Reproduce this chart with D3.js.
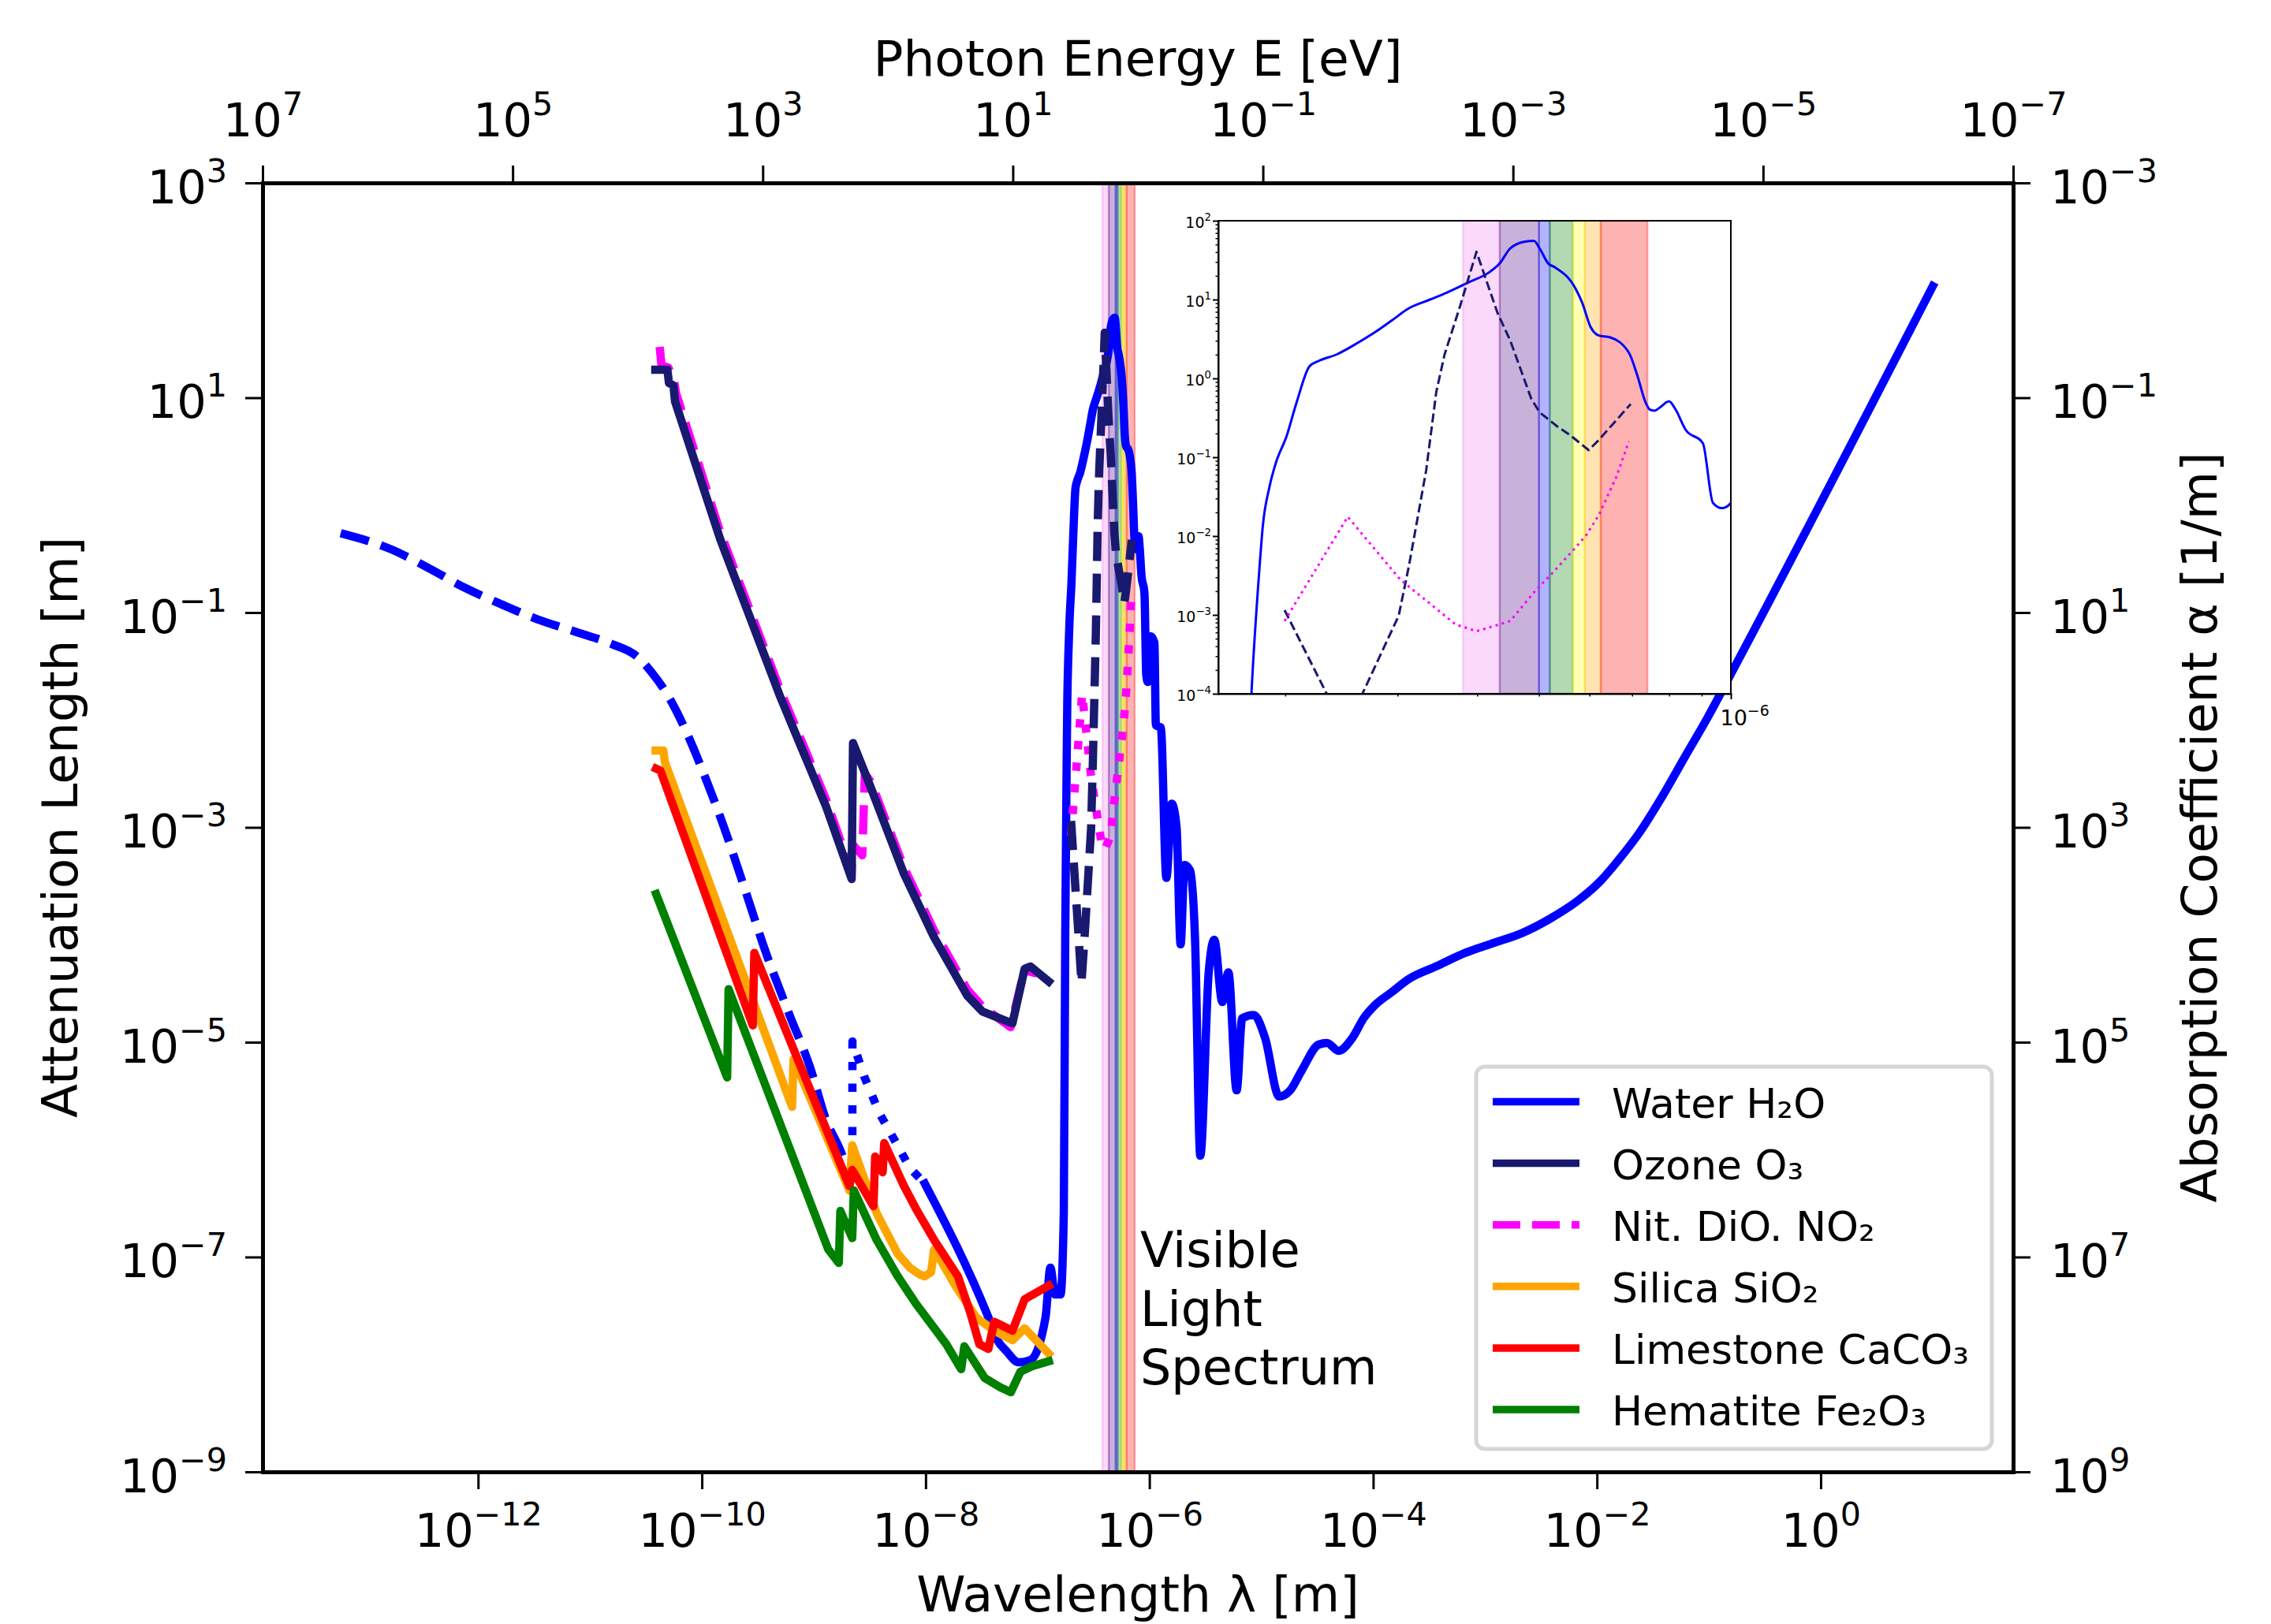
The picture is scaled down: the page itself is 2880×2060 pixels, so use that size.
<!DOCTYPE html>
<html>
<head>
<meta charset="utf-8">
<script src="https://cdn.jsdelivr.net/npm/d3@7"></script>
<style>
  body { margin: 0; background: #fff; }
  text { font-family: "DejaVu Sans"; }
</style>
</head>
<body>
<svg id="chart" width="2880" height="2060" xmlns="http://www.w3.org/2000/svg"></svg>
<script>
// ---------------- DATA (log10 wavelength [m], log10 attenuation length [m]) ----------------
const waterGammaLog = [[-13.228,-0.262],[-12.773,-0.413],[-12.449,-0.582],[-12.126,-0.765],[-11.801,-0.919],[-11.478,-1.059],[-11.127,-1.180],[-10.802,-1.294],[-10.586,-1.404],[-10.451,-1.554],[-10.289,-1.798],[-10.128,-2.135],[-9.965,-2.547],[-9.803,-2.996],[-9.620,-3.561],[-9.432,-4.153],[-9.220,-4.736],[-9.030,-5.242],[-8.896,-5.705],[-8.734,-6.086],[-8.691,-6.233]];
const waterSoftXLog = [[-8.691,-6.233],[-8.655,-6.233],[-8.654,-4.993],[-8.546,-5.327],[-8.411,-5.665],[-8.275,-5.917],[-8.141,-6.170],[-8.007,-6.317]];
const waterLog = [[-8.007,-6.317],[-7.439,-7.561],[-7.358,-7.774],[-7.277,-7.877],[-7.168,-7.980],[-7.062,-7.958],[-6.928,-7.561],[-6.885,-7.099],[-6.843,-7.349],[-6.794,-7.349],[-6.765,-6.593],[-6.752,-4.0],[-6.740,-2.47],[-6.734,-1.86],[-6.724,-1.386],[-6.714,-1.08],[-6.697,-0.736],[-6.681,-0.30],[-6.661,0.153],[-6.647,0.22],[-6.618,0.305],[-6.584,0.457],[-6.558,0.587],[-6.531,0.74],[-6.505,0.89],[-6.472,1.0],[-6.446,1.086],[-6.412,1.216],[-6.379,1.346],[-6.363,1.454],[-6.346,1.65],[-6.323,1.736],[-6.309,1.745],[-6.300,1.65],[-6.286,1.454],[-6.276,1.41],[-6.243,1.13],[-6.233,0.956],[-6.220,0.652],[-6.207,0.544],[-6.190,0.522],[-6.160,0.327],[-6.147,0.045],[-6.134,-0.30],[-6.127,-0.397],[-6.120,-0.41],[-6.111,-0.367],[-6.097,-0.29],[-6.087,-0.39],[-6.071,-0.65],[-6.044,-0.82],[-6.028,-1.58],[-6.014,-1.646],[-6.000,-1.58],[-5.990,-1.22],[-5.955,-1.28],[-5.942,-2.05],[-5.898,-2.07],[-5.848,-3.47],[-5.800,-2.78],[-5.757,-3.00],[-5.721,-4.09],[-5.686,-3.35],[-5.637,-3.40],[-5.592,-4.04],[-5.545,-6.057],[-5.470,-4.351],[-5.420,-4.046],[-5.348,-4.626],[-5.294,-4.351],[-5.220,-5.448],[-5.171,-4.777],[-5.067,-4.747],[-4.966,-4.960],[-4.840,-5.506],[-4.741,-5.448],[-4.639,-5.264],[-4.487,-5.022],[-4.412,-5.007],[-4.310,-5.081],[-4.186,-4.960],[-4.085,-4.777],[-3.984,-4.655],[-3.833,-4.533],[-3.682,-4.412],[-3.429,-4.290],[-3.177,-4.168],[-2.926,-4.077],[-2.674,-3.986],[-2.422,-3.852],[-2.170,-3.682],[-1.968,-3.499],[-1.817,-3.316],[-1.616,-3.043],[-1.414,-2.708],[-1.213,-2.342],[-1.011,-1.978],[-0.762,-1.492],[1.002,2.039]];
const ozoneLog = [[-10.416,1.261],[-10.308,1.261],[-10.294,1.136],[-10.254,1.114],[-10.240,0.967],[-9.836,-0.317],[-9.296,-1.793],[-8.890,-2.806],[-8.661,-3.481],[-8.649,-2.215],[-8.487,-2.637],[-8.195,-3.429],[-7.925,-4.022],[-7.628,-4.567],[-7.492,-4.714],[-7.224,-4.824],[-7.115,-4.317],[-7.062,-4.295],[-6.899,-4.435]];
const ozoneVisLog = [[-6.700,-2.94],[-6.634,-4.0],[-6.607,-4.45],[-6.578,-4.0],[-6.521,-3.01],[-6.505,-2.38],[-6.478,-1.17],[-6.462,-0.17],[-6.449,0.305],[-6.425,0.91],[-6.399,1.606],[-6.386,1.30],[-6.366,0.83],[-6.346,0.48],[-6.313,-0.26],[-6.300,-0.43],[-6.273,-0.605],[-6.253,-0.714],[-6.223,-0.91],[-6.207,-0.78],[-6.157,-0.324]];
const no2Log = [[-10.377,1.473],[-10.360,1.30],[-10.300,1.28],[-10.250,1.17],[-10.230,1.04],[-9.836,-0.25],[-9.296,-1.73],[-8.890,-2.74],[-8.661,-3.42],[-8.652,-3.16],[-8.566,-3.26],[-8.543,-2.50],[-8.487,-2.58],[-8.195,-3.37],[-7.925,-3.96],[-7.628,-4.51],[-7.492,-4.67],[-7.240,-4.86],[-7.118,-4.33],[-7.005,-4.36]];
const no2VisLog = [[-6.700,-3.077],[-6.601,-1.755],[-6.545,-2.297],[-6.518,-2.557],[-6.478,-2.817],[-6.432,-3.12],[-6.399,-3.207],[-6.363,-3.12],[-6.346,-3.077],[-6.306,-2.687],[-6.280,-2.47],[-6.246,-2.167],[-6.227,-1.99],[-6.207,-1.733],[-6.180,-1.256],[-6.160,-0.80]];
const silicaLog = [[-10.413,-2.284],[-10.344,-2.284],[-10.330,-2.394],[-9.194,-5.602],[-9.180,-5.159],[-8.681,-6.380],[-8.656,-5.960],[-8.437,-6.593],[-8.249,-6.971],[-8.141,-7.099],[-8.060,-7.158],[-8.007,-7.180],[-7.951,-7.140],[-7.924,-6.930],[-7.898,-6.971],[-7.735,-7.266],[-7.549,-7.561],[-7.386,-7.686],[-7.224,-7.774],[-7.115,-7.664],[-6.899,-7.899]];
const limestoneLog = [[-10.409,-2.453],[-10.370,-2.472],[-9.545,-4.843],[-9.531,-4.169],[-8.681,-6.339],[-8.656,-6.189],[-8.466,-6.527],[-8.451,-6.064],[-8.384,-6.211],[-8.370,-5.939],[-8.195,-6.336],[-8.087,-6.549],[-7.924,-6.842],[-7.711,-7.180],[-7.601,-7.518],[-7.520,-7.811],[-7.439,-7.855],[-7.386,-7.603],[-7.224,-7.686],[-7.115,-7.393],[-6.899,-7.266]];
const hematiteLog = [[-10.409,-3.620],[-9.774,-5.328],[-9.761,-4.506],[-8.870,-6.929],[-8.776,-7.055],[-8.762,-6.571],[-8.656,-6.824],[-8.642,-6.380],[-8.437,-6.842],[-8.249,-7.180],[-8.087,-7.434],[-7.817,-7.809],[-7.682,-8.044],[-7.654,-7.831],[-7.471,-8.127],[-7.330,-8.215],[-7.238,-8.259],[-7.153,-8.068],[-7.048,-8.017],[-6.899,-7.970]];

// visible bands (nm)
const bandStartsNm = [380, 434, 500, 520, 565, 590, 625];
const bandEndsNm   = [434, 500, 520, 565, 590, 625, 740];

// tick exponents
const bottomTickExps = [-12, -10, -8, -6, -4, -2, 0];
const topTickExps = [7, 5, 3, 1, -1, -3, -5, -7];
const leftTickExps = [3, 1, -1, -3, -5, -7, -9];
const rightTickExps = [-3, -1, 1, 3, 5, 7, 9];
const insetYTickExps = [2, 1, 0, -1, -2, -3, -4];
const insetXTickExps = [-6];

const legendLabels = ["Water H\u2082O", "Ozone O\u2083", "Nit. DiO. NO\u2082", "Silica SiO\u2082", "Limestone CaCO\u2083", "Hematite Fe\u2082O\u2083"];
const visibleLabelLines = ["Visible", "Light", "Spectrum"];
const axisTitles = { bottom: "Wavelength \u03bb [m]", top: "Photon Energy E [eV]", left: "Attenuation Length [m]", right: "Absorption Coefficient \u03b1 [1/m]" };

// ---------------- STYLES / LAYOUT ----------------
const bandColors = ['violet', 'indigo', 'blue', 'green', 'yellow', 'orange', 'red'];
const C = { water: '#0000ff', ozone: '#191970', no2: '#ff00ff', silica: '#ffa500', lime: '#ff0000', hem: '#008000' };
const M = { left: 333, right: 2553, top: 232, bottom: 1867 };
const I = { left: 1545, right: 2195, top: 280, bottom: 880 };
const fsTick = 59, fsLabel = 63, fsLegend = 52, fsInY = 19, fsInX = 27;
const LW = 10.5;
const DASH = '37,16', DOT = '10.5,17';

const svg = d3.select('#chart');
svg.append('rect').attr('width', 2880).attr('height', 2060).attr('fill', '#fff');

const x = d3.scaleLog().domain([Math.pow(10, -13.926), Math.pow(10, 1.72)]).range([M.left, M.right]);
const y = d3.scaleLog().domain([1e-9, 1e3]).range([M.bottom, M.top]);
const xTop = d3.scaleLog().domain([1e7, 1e-7]).range([M.left, M.right]);
const yRight = d3.scaleLog().domain([1e9, 1e-3]).range([M.bottom, M.top]);
const xi = d3.scaleLog().domain([Math.pow(10, -6.804), 1e-6]).range([I.left, I.right]);
const yi = d3.scaleLog().domain([1e-4, 1e2]).range([I.bottom, I.top]);

const lin = arr => arr.map(d => [Math.pow(10, d[0]), Math.pow(10, d[1])]);

const defs = svg.append('defs');
defs.append('clipPath').attr('id', 'clipMain').append('rect')
  .attr('x', M.left).attr('y', M.top).attr('width', M.right - M.left).attr('height', M.bottom - M.top);
defs.append('clipPath').attr('id', 'clipInset').append('rect')
  .attr('x', I.left).attr('y', I.top).attr('width', I.right - I.left).attr('height', I.bottom - I.top);

function drawBands(g, xs, y0, y1) {
  g.selectAll('rect.band').data(d3.range(bandStartsNm.length)).join('rect')
    .attr('class', 'band')
    .attr('x', i => xs(bandStartsNm[i] * 1e-9))
    .attr('width', i => xs(bandEndsNm[i] * 1e-9) - xs(bandStartsNm[i] * 1e-9))
    .attr('y', y0).attr('height', y1 - y0)
    .attr('fill', i => bandColors[i]).attr('fill-opacity', 0.3)
    .attr('stroke', i => bandColors[i]).attr('stroke-opacity', 0.3).attr('stroke-width', 2.5);
}

// ---------------- MAIN PLOT ----------------
const mainG = svg.append('g').attr('clip-path', 'url(#clipMain)');
drawBands(mainG, x, M.top, M.bottom);

const lineMain = d3.line().x(d => x(d[0])).y(d => y(d[1]));
const lineMainSmooth = d3.line().x(d => x(d[0])).y(d => y(d[1])).curve(d3.curveMonotoneX);
const mainSeries = [
  { data: waterGammaLog, color: C.water, dash: DASH, smooth: true },
  { data: waterSoftXLog, color: C.water, dash: DOT },
  { data: waterLog, color: C.water, dash: null, smooth: true },
  { data: no2Log, color: C.no2, dash: DASH },
  { data: no2VisLog, color: C.no2, dash: DOT },
  { data: ozoneLog, color: C.ozone, dash: null },
  { data: ozoneVisLog, color: C.ozone, dash: DASH },
  { data: silicaLog, color: C.silica, dash: null },
  { data: limestoneLog, color: C.lime, dash: null },
  { data: hematiteLog, color: C.hem, dash: null }
];
mainG.selectAll('path.series').data(mainSeries).join('path')
  .attr('class', 'series')
  .attr('d', s => (s.smooth ? lineMainSmooth : lineMain)(lin(s.data)))
  .attr('fill', 'none')
  .attr('stroke', s => s.color)
  .attr('stroke-width', LW)
  .attr('stroke-linejoin', 'round')
  .attr('stroke-linecap', s => s.dash ? 'butt' : 'square')
  .attr('stroke-dasharray', s => s.dash);

// ---------------- AXES ----------------
function expLabel(sel, e, fs) {
  sel.text(null);
  sel.append('tspan').text('10');
  sel.append('tspan').attr('font-size', fs * 0.7).attr('dy', -0.45 * fs)
    .text(e < 0 ? '\u2212' + Math.abs(e) : String(e));
}
function styleAxis(g, fs, spineW, tickW) {
  g.attr('font-family', 'DejaVu Sans').attr('font-size', fs);
  g.select('.domain').attr('stroke', '#000').attr('stroke-width', spineW).attr('stroke-linecap', 'square');
  g.selectAll('.tick line').attr('stroke', '#000').attr('stroke-width', tickW);
  g.selectAll('.tick text').attr('fill', '#000');
}
const blank = () => '';

const gBottom = svg.append('g').attr('transform', `translate(0,${M.bottom})`)
  .call(d3.axisBottom(x).tickValues(bottomTickExps.map(e => Math.pow(10, e))).tickSize(22).tickSizeOuter(0).tickFormat(blank));
styleAxis(gBottom, fsTick, 5, 3);
gBottom.selectAll('.tick text').attr('y', 95).attr('dy', null).attr('text-anchor', 'middle')
  .each(function (d) { expLabel(d3.select(this), Math.round(Math.log10(d)), fsTick); });

const gTop = svg.append('g').attr('transform', `translate(0,${M.top})`)
  .call(d3.axisTop(xTop).tickValues(topTickExps.map(e => Math.pow(10, e))).tickSize(22).tickSizeOuter(0).tickFormat(blank));
styleAxis(gTop, fsTick, 5, 3);
gTop.selectAll('.tick text').attr('y', -59).attr('dy', null).attr('text-anchor', 'middle')
  .each(function (d) { expLabel(d3.select(this), Math.round(Math.log10(d)), fsTick); });

const gLeft = svg.append('g').attr('transform', `translate(${M.left},0)`)
  .call(d3.axisLeft(y).tickValues(leftTickExps.map(e => Math.pow(10, e))).tickSize(22).tickSizeOuter(0).tickFormat(blank));
styleAxis(gLeft, fsTick, 5, 3);
gLeft.selectAll('.tick text').attr('x', -45).attr('y', 25).attr('dy', null).attr('text-anchor', 'end')
  .each(function (d) { expLabel(d3.select(this), Math.round(Math.log10(d)), fsTick); });

const gRight = svg.append('g').attr('transform', `translate(${M.right},0)`)
  .call(d3.axisRight(yRight).tickValues(rightTickExps.map(e => Math.pow(10, e))).tickSize(22).tickSizeOuter(0).tickFormat(blank));
styleAxis(gRight, fsTick, 5, 3);
gRight.selectAll('.tick text').attr('x', 47).attr('y', 25).attr('dy', null).attr('text-anchor', 'start')
  .each(function (d) { expLabel(d3.select(this), Math.round(Math.log10(d)), fsTick); });

// axis titles
const cx = (M.left + M.right) / 2, cy = (M.top + M.bottom) / 2;
svg.append('text').attr('x', cx).attr('y', 2044).attr('text-anchor', 'middle').attr('font-size', fsLabel).text(axisTitles.bottom);
svg.append('text').attr('x', cx).attr('y', 96).attr('text-anchor', 'middle').attr('font-size', fsLabel).text(axisTitles.top);
svg.append('text').attr('transform', `translate(98,${cy}) rotate(-90)`).attr('text-anchor', 'middle').attr('font-size', fsLabel).text(axisTitles.left);
svg.append('text').attr('transform', `translate(2811,${cy}) rotate(-90)`).attr('text-anchor', 'middle').attr('font-size', fsLabel).text(axisTitles.right);

// visible light text
svg.append('g').selectAll('text').data(visibleLabelLines).join('text')
  .attr('x', 1446).attr('y', (d, i) => 1607 + i * 74.5)
  .attr('font-size', 62).attr('fill', '#000').text(d => d);

// ---------------- INSET ----------------
svg.append('rect').attr('x', I.left).attr('y', I.top).attr('width', I.right - I.left).attr('height', I.bottom - I.top).attr('fill', '#fff');
const inG = svg.append('g').attr('clip-path', 'url(#clipInset)');
drawBands(inG, xi, I.top, I.bottom);
const lineInset = d3.line().x(d => xi(d[0])).y(d => yi(d[1]));
const lineInsetSmooth = d3.line().x(d => xi(d[0])).y(d => yi(d[1])).curve(d3.curveMonotoneX);
const insetSeries = [
  { data: waterLog, color: C.water, dash: null, smooth: true },
  { data: ozoneVisLog, color: C.ozone, dash: '11.5,5' },
  { data: no2VisLog, color: C.no2, dash: '3.1,5.1' }
];
inG.selectAll('path.iseries').data(insetSeries).join('path')
  .attr('class', 'iseries')
  .attr('d', s => (s.smooth ? lineInsetSmooth : lineInset)(lin(s.data)))
  .attr('fill', 'none').attr('stroke', s => s.color).attr('stroke-width', 3)
  .attr('stroke-linejoin', 'round').attr('stroke-dasharray', s => s.dash);

const isPow10 = v => Math.abs(Math.log10(v) - Math.round(Math.log10(v))) < 1e-6;
// inset y
const giYmin = svg.append('g').attr('transform', `translate(${I.left},0)`)
  .call(d3.axisLeft(yi).tickValues(yi.ticks().filter(v => !isPow10(v))).tickSize(3.5).tickSizeOuter(0).tickFormat(blank));
giYmin.select('.domain').remove();
giYmin.selectAll('.tick line').attr('stroke', '#000').attr('stroke-width', 1.5);
const giY = svg.append('g').attr('transform', `translate(${I.left},0)`)
  .call(d3.axisLeft(yi).tickValues(insetYTickExps.map(e => Math.pow(10, e))).tickSize(7).tickSizeOuter(0).tickFormat(blank));
styleAxis(giY, fsInY, 2, 2);
giY.selectAll('.tick text').attr('x', -9).attr('y', 8).attr('dy', null).attr('text-anchor', 'end')
  .each(function (d) { expLabel(d3.select(this), Math.round(Math.log10(d)), fsInY); });
// inset x
const giXmin = svg.append('g').attr('transform', `translate(0,${I.bottom})`)
  .call(d3.axisBottom(xi).tickValues(xi.ticks().filter(v => !isPow10(v))).tickSize(3.5).tickSizeOuter(0).tickFormat(blank));
giXmin.select('.domain').remove();
giXmin.selectAll('.tick line').attr('stroke', '#000').attr('stroke-width', 1.5);
const giX = svg.append('g').attr('transform', `translate(0,${I.bottom})`)
  .call(d3.axisBottom(xi).tickValues(insetXTickExps.map(e => Math.pow(10, e))).tickSize(7).tickSizeOuter(0).tickFormat(blank));
styleAxis(giX, fsInX, 2, 2);
giX.selectAll('.tick text').attr('x', -14).attr('y', 40).attr('dy', null).attr('text-anchor', 'start')
  .each(function (d) { expLabel(d3.select(this), Math.round(Math.log10(d)), fsInX); });
svg.append('rect').attr('x', I.left).attr('y', I.top).attr('width', I.right - I.left).attr('height', I.bottom - I.top)
  .attr('fill', 'none').attr('stroke', '#000').attr('stroke-width', 2);

// ---------------- LEGEND ----------------
const legendStyles = [
  { color: C.water, dash: null }, { color: C.ozone, dash: null }, { color: C.no2, dash: '35,15' },
  { color: C.silica, dash: null }, { color: C.lime, dash: null }, { color: C.hem, dash: null }
];
const L = { x: 1872, y: 1353, w: 654, h: 485, row0: 1397.5, dy: 78.1, hx0: 1893, hx1: 2003, tx: 2044 };
const lg = svg.append('g');
lg.append('rect').attr('x', L.x).attr('y', L.y).attr('width', L.w).attr('height', L.h).attr('rx', 11)
  .attr('fill', '#fff').attr('fill-opacity', 0.85).attr('stroke', '#d6d6d6').attr('stroke-width', 5);
const rows = lg.selectAll('g.row').data(d3.range(legendLabels.length)).join('g').attr('class', 'row');
rows.append('line').attr('x1', L.hx0).attr('x2', L.hx1)
  .attr('y1', i => L.row0 + i * L.dy).attr('y2', i => L.row0 + i * L.dy)
  .attr('stroke', i => legendStyles[i].color).attr('stroke-width', 9.5)
  .attr('stroke-dasharray', i => legendStyles[i].dash);
rows.append('text').attr('x', L.tx).attr('y', i => L.row0 + i * L.dy + 20)
  .attr('font-size', fsLegend).attr('fill', '#000').text(i => legendLabels[i]);
</script>
</body>
</html>
